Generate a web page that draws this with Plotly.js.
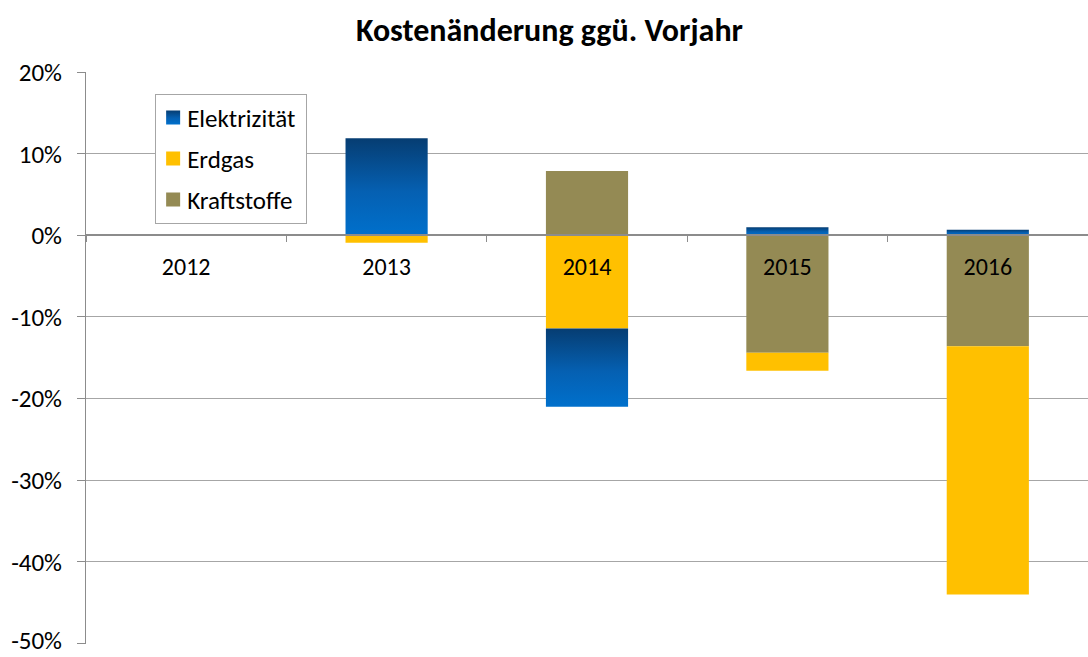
<!DOCTYPE html>
<html>
<head>
<meta charset="utf-8">
<script src="https://cdn.plot.ly/plotly-3.0.1.min.js"></script>
<style>html,body{margin:0;padding:0;background:#fff;}#chart{width:1088px;height:657px;}</style>
</head>
<body>
<div id="chart"></div>
<script>
const years = ['2012', '2013', '2014', '2015', '2016'];
const elektrizitaet = [0, 11.9, -9.6, 1.0, 0.7];
const erdgas = [0, -0.9, -11.4, -2.2, -30.4];
const kraftstoffe = [0, 0, 7.9, -14.4, -13.6];
const yTicks = [-50, -40, -30, -20, -10, 0, 10, 20];

const FONT = 'Carlito, Lato, "Open Sans", sans-serif';

const traces = [
  {name: 'Kraftstoffe', y: kraftstoffe, color: '#948a54', group: 'c', rank: 3},
  {name: 'Erdgas', y: erdgas, color: '#ffc000', group: 'b', rank: 2},
  {name: 'Elektrizität', y: elektrizitaet, color: '#0a5aa6', group: 'a', rank: 1}
].map(t => ({
  type: 'bar', x: years, y: t.y, name: t.name, legendgroup: t.group, legendrank: t.rank,
  marker: {color: t.color, line: {width: 0}},
  hoverinfo: 'none'
}));

const layout = {
  width: 1088, height: 657,
  margin: {l: 86, r: 0, t: 72, b: 13},
  paper_bgcolor: '#ffffff', plot_bgcolor: '#ffffff',
  font: {family: FONT, color: '#000000', size: 24},
  barmode: 'relative',
  bargap: 0.59,
  showlegend: true,
  title: {text: '<b>Kostenänderung ggü. Vorjahr</b>', x: 0.505, xanchor: 'center', y: 0.955, yanchor: 'middle', font: {family: FONT, size: 32, color: '#000'}},
  legend: {
    x: 0.069, y: 0.962, xanchor: 'left', yanchor: 'top',
    traceorder: 'grouped', tracegroupgap: 5.5,
    bordercolor: '#a6a6a6', borderwidth: 1, bgcolor: '#ffffff',
    font: {family: FONT, size: 25, color: '#000'}
  },
  xaxis: {
    type: 'category', categoryorder: 'array', categoryarray: years,
    range: [-0.5, 4.5], anchor: 'free', position: 50 / 70,
    showline: true, linecolor: '#8c8c8c', linewidth: 2,
    ticks: 'outside', tickson: 'boundaries', ticklen: 6, tickcolor: '#8c8c8c', tickwidth: 1,
    showgrid: false, zeroline: false, layer: 'above traces',
    ticklabelstandoff: 10,
    tickfont: {family: FONT, size: 24, color: '#000'}
  },
  yaxis: {
    range: [-50.08, 20.02], tickvals: yTicks, ticktext: yTicks.map(v => v + '%'),
    showline: true, linecolor: '#8c8c8c', linewidth: 1,
    ticks: 'outside', ticklen: 8, tickcolor: '#8c8c8c',
    showgrid: true, gridcolor: '#a6a6a6', gridwidth: 1, zeroline: false,
    ticklabelstandoff: 10,
    tickfont: {family: FONT, size: 25, color: '#000'}
  }
};

Plotly.newPlot('chart', traces, layout, {displayModeBar: false, staticPlot: true}).then(gd => {
  const svg = gd.querySelector('svg.main-svg');
  const ns = 'http://www.w3.org/2000/svg';
  let defs = svg.querySelector('defs');
  const grad = document.createElementNS(ns, 'linearGradient');
  grad.setAttribute('id', 'elgrad');
  grad.setAttribute('x1', '0'); grad.setAttribute('y1', '0');
  grad.setAttribute('x2', '0'); grad.setAttribute('y2', '1');
  [['0', '#063d72'], ['0.55', '#0560b2'], ['1', '#0070cc']].forEach(([o, c]) => {
    const s = document.createElementNS(ns, 'stop');
    s.setAttribute('offset', o); s.setAttribute('stop-color', c);
    grad.appendChild(s);
  });
  defs.appendChild(grad);
  const barTraces = gd.querySelectorAll('.barlayer .trace.bars');
  barTraces[2].querySelectorAll('path').forEach(p => { p.style.fill = 'url(#elgrad)'; });
  // legend: bigger swatches, tighter text spacing
  gd.querySelectorAll('.legend .traces').forEach(tr => {
    const txt = tr.querySelector('.legendtext');
    tr.querySelectorAll('.legendpoints path').forEach(p => {
      p.setAttribute('d', 'M4,7H-10V-7H4Z');
      if (txt && txt.textContent === 'Elektrizität') p.style.fill = 'url(#elgrad)';
    });
    if (txt) txt.setAttribute('x', String(parseFloat(txt.getAttribute('x')) - 9));
  });
  const bg = gd.querySelector('.legend .bg');
  if (bg) bg.setAttribute('width', String(parseFloat(bg.getAttribute('width')) - 4));
  // show the bottom tick label that Plotly hides near the edge, nudged to stay inside
  gd.querySelectorAll('.ytick text').forEach(t => {
    t.style.display = 'block';
    if (t.textContent === '-50%') t.setAttribute('y', String(parseFloat(t.getAttribute('y')) - 3));
  });
});
</script>
</body>
</html>
